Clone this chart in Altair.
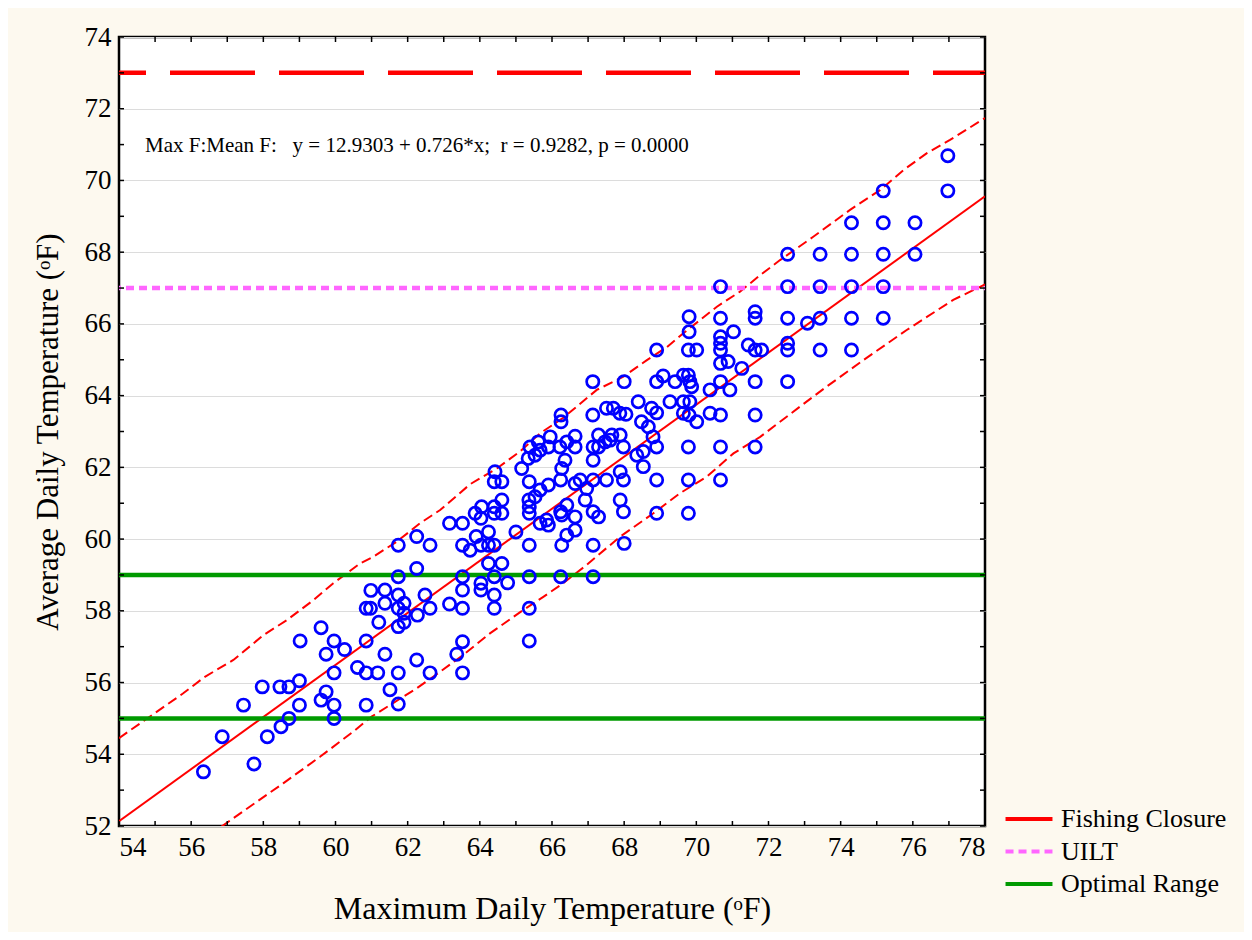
import altair as alt
import pandas as pd

# ---------------- data ----------------
max_f = [
    56.34, 57.74, 56.86, 58.11, 58.49, 58.71, 57.45, 57.97, 58.46, 58.71, 59.0, 59.0, 59.6, 59.74, 59.96, 59.96,
    60.85, 59.96, 60.61, 60.85, 61.17, 59.02, 59.6, 59.74, 59.96, 60.25, 60.85, 60.85, 60.97, 60.98, 61.2,
    61.74, 61.37, 62.25, 62.62, 63.36, 63.52, 63.52, 61.51, 61.74, 61.37, 61.37, 61.74, 61.74, 61.9, 61.9,
    61.74, 61.9, 62.27, 62.62, 62.48, 63.16, 63.52, 64.4, 64.4, 65.37, 65.37, 61.74, 62.25, 63.52, 63.52,
    64.03, 64.03, 64.4, 64.77, 65.37, 64.24, 64.61, 61.74, 62.25, 62.62, 63.16, 63.52, 63.52, 63.73, 63.9,
    64.03, 64.24, 64.24, 64.4, 63.87, 64.05, 64.03, 64.4, 64.4, 64.61, 64.61, 65.0, 65.37, 65.37, 65.37,
    64.4, 64.61, 65.37,
    66.25, 66.25, 67.13, 67.51, 67.7, 67.88, 68.05, 65.39, 65.62, 65.9, 65.34, 65.53, 65.16, 66.22, 66.41,
    66.64, 66.36, 66.27, 66.64, 67.14, 67.29, 67.47, 67.66, 67.89, 67.98, 67.14, 64.42, 65.67, 65.9, 66.24,
    66.64, 66.78, 66.96, 67.14, 67.51, 67.89, 67.98, 65.36, 65.53, 65.85, 65.67, 65.9, 66.24, 66.41, 66.27,
    66.64, 66.64, 66.41, 66.27, 67.14, 67.29, 67.14, 67.89, 67.98, 66.24, 67.14,
    68.9, 69.78, 70.01, 67.13, 68.0, 68.9, 69.08, 69.41, 69.64, 69.78, 69.82, 69.87, 68.39, 68.76, 68.9,
    69.27, 69.64, 69.82, 69.64, 70.01, 70.38, 68.48, 68.67, 68.8, 68.9, 68.53, 68.35, 68.53, 69.78, 67.29,
    67.61, 65.95, 65.67, 68.9, 69.78, 66.92, 68.9, 69.78, 68.0,
    69.8, 70.67, 71.63, 71.63, 72.53, 73.08, 73.43, 74.3, 69.8, 70.67, 70.67, 70.67, 71.03, 71.44, 71.63,
    71.81, 72.53, 72.53, 73.43, 74.3, 70.67, 70.88, 71.26, 70.67, 70.93, 70.38, 71.63, 72.53, 69.8, 70.67,
    71.63, 70.67, 71.63, 70.67,
    76.97, 76.97, 75.18, 74.3, 75.18, 76.06, 72.53, 73.43, 74.3, 75.18, 76.06, 72.53, 73.43, 74.3, 75.18,
    75.18, 70.67,
]
mean_f = [
    53.51, 53.73, 54.49, 54.49, 54.77, 55.0, 55.37, 55.88, 55.88, 55.88, 56.05, 55.37, 55.51, 55.74, 55.37, 55.0,
    55.37, 56.27, 56.42, 56.27, 56.27, 57.16, 57.53, 56.79, 57.16, 56.92, 57.16, 58.07, 58.07, 58.57, 57.68,
    56.27, 56.79, 56.63, 56.27, 56.79, 57.14, 56.27, 55.8, 55.4, 58.21, 58.58, 58.44, 58.07, 58.21, 57.68,
    57.56, 57.93, 57.88, 58.07, 58.44, 58.19, 58.07, 58.07, 58.44, 58.07, 57.16, 58.95, 59.18, 58.95, 58.58,
    58.77, 58.58, 58.95, 58.78, 58.95, 59.32, 59.32, 59.83, 60.07, 59.83, 60.44, 60.44, 59.83, 59.69, 60.07,
    59.83, 60.2, 59.83, 59.83, 60.72, 60.9, 60.58, 60.9, 60.72, 61.09, 60.72, 60.2, 59.83, 60.72, 60.9,
    61.6, 61.6, 61.6,
    63.46, 63.27, 63.46, 63.65, 63.65, 63.51, 63.48, 62.57, 62.71, 62.57, 62.25, 62.34, 61.97, 62.57, 62.71,
    62.87, 62.2, 61.97, 62.57, 62.57, 62.9, 62.71, 62.9, 62.9, 62.57, 62.2, 61.88, 61.37, 61.51, 61.65,
    61.55, 61.65, 61.41, 61.65, 61.65, 61.88, 61.65, 61.09, 61.18, 60.53, 60.44, 60.39, 60.76, 60.95, 60.67,
    60.62, 60.25, 60.11, 59.83, 60.76, 60.62, 59.83, 61.09, 60.76, 58.95, 58.95,
    65.27, 65.27, 65.27, 64.39, 64.39, 64.39, 64.55, 64.39, 64.57, 64.57, 64.39, 64.25, 63.83, 63.65, 63.52,
    63.83, 63.83, 63.83, 63.51, 63.27, 63.51, 63.27, 63.13, 62.85, 62.57, 62.44, 62.34, 62.02, 62.57, 62.57,
    62.76, 62.85, 62.48, 61.65, 61.65, 61.09, 60.72, 60.72, 59.88,
    66.2, 66.16, 66.34, 66.16, 66.16, 66.02, 66.16, 66.16, 65.78, 65.64, 65.46, 65.27, 65.78, 65.41, 65.27,
    65.27, 65.46, 65.27, 65.27, 65.27, 64.9, 64.95, 64.76, 64.39, 64.16, 64.16, 64.39, 64.39, 63.46, 63.46,
    63.46, 62.57, 62.57, 61.65,
    70.69, 69.71, 69.71, 68.82, 68.82, 68.82, 67.94, 67.94, 67.94, 67.94, 67.94, 67.04, 67.04, 67.04, 67.04,
    66.16, 67.04,
]

# prediction band (dashed red), read along its path
upper_x = [54.0, 55.78, 56.38, 57.17, 58.0, 58.65, 59.39, 59.94, 60.68, 61.05, 61.7, 62.34, 62.9, 63.73,
           64.47, 65.11, 65.67, 66.31, 67.24, 67.98, 68.63, 69.18, 69.64, 70.57, 71.21, 71.77, 72.32,
           73.24, 74.26, 75.09, 75.74, 76.39, 77.03, 78.0]
upper_y = [54.45, 55.7, 56.16, 56.63, 57.32, 57.74, 58.3, 58.77, 59.32, 59.51, 59.93, 60.44, 60.81, 61.53,
           61.97, 62.44, 62.95, 63.38, 64.16, 64.53, 64.99, 65.35, 65.74, 66.48, 66.9, 67.36, 67.78,
           68.43, 69.18, 69.73, 70.29, 70.76, 71.13, 71.74]
lower_x = [56.5, 56.86, 58.55, 59.57, 60.49, 61.0, 62.25, 62.9, 63.54, 64.28, 65.2, 65.76, 66.31, 66.96,
           67.89, 68.81, 69.55, 70.29, 71.03, 71.77, 72.92, 73.61, 74.63, 75.83, 77.12, 78.0]
lower_y = [51.75, 52.0, 53.19, 53.93, 54.63, 55.05, 55.84, 56.3, 56.77, 57.37, 58.02, 58.39, 58.77, 59.28,
           60.07, 60.72, 61.28, 61.74, 62.39, 62.85, 63.73, 64.25, 64.99, 65.83, 66.67, 67.1]

# fitted regression (from the equation printed on the chart)
intercept = 12.9303
slope = 0.726
fit_x = [54.0, 78.0]

ref_names = ["Fishing Closure", "UILT", "Optimal Range", "Optimal Range"]
ref_values = [73, 67, 59, 55]
legend_order = ["Fishing Closure", "UILT", "Optimal Range"]
legend_colors = ["#ff0000", "#ff66ff", "#009a00"]
legend_dashes = [[85, 24], [8, 5], [1, 0]]

x_labels = list(range(54, 79, 2))
y_labels = list(range(52, 75, 2))
x_minor = list(range(54, 79))
y_minor = list(range(52, 75))

annotation = "Max F:Mean F:\u00a0\u00a0 y = 12.9303 + 0.726*x;\u00a0 r = 0.9282, p = 0.0000"
ann_x, ann_y = 54.72, 70.96

x_title = "Maximum Daily Temperature (\u1d52F)"
y_title = "Average Daily Temperature (\u1d52F)"

# ---------------- chart ----------------
FONT = "Liberation Serif"
W, H = 866, 789

xs = alt.Scale(domain=[54, 78], nice=False, zero=False)
ys = alt.Scale(domain=[52, 74], nice=False, zero=False)
x_axis = alt.Axis(values=x_labels, format="d", title=x_title, grid=False, ticks=False, tickSize=0,
                  domain=False, labelFont=FONT, labelFontSize=27, labelColor="black", labelPadding=8,
                  titleFont=FONT, titleFontSize=32, titleFontWeight="normal", titleColor="black",
                  titlePadding=33)
y_axis = alt.Axis(values=y_labels, format="d", title=y_title, grid=True, gridColor="#dcdcdc",
                  gridWidth=1, ticks=False, tickSize=0, domain=False, labelFont=FONT, labelFontSize=27,
                  labelColor="black", labelPadding=8, titleFont=FONT, titleFontSize=31,
                  titleFontWeight="normal", titleColor="black", titlePadding=20)


def X(f):
    return alt.X(f, type="quantitative", scale=xs, axis=x_axis)


def Y(f):
    return alt.Y(f, type="quantitative", scale=ys, axis=y_axis)


pts = pd.DataFrame({"x": max_f, "y": mean_f})
bands = pd.concat([
    pd.DataFrame({"x": upper_x, "y": upper_y, "b": "upper"}),
    pd.DataFrame({"x": lower_x, "y": lower_y, "b": "lower"}),
])
fit = pd.DataFrame({"x": fit_x, "y": [intercept + slope * v for v in fit_x]})
refs = pd.DataFrame({"y": ref_values, "s": ref_names})
ann = pd.DataFrame({"x": [ann_x], "y": [ann_y], "t": [annotation]})
xt = pd.DataFrame({"v": x_minor})
yt = pd.DataFrame({"v": y_minor})

# legend line drawn as a wide custom path so that the row height stays compact
leg = alt.Legend(title=None, orient="none", legendX=892, legendY=764,
                 symbolType="M-1.5,0H1.5", symbolSize=980, symbolStrokeWidth=4,
                 labelFont=FONT, labelFontSize=26, labelColor="black", labelOffset=14,
                 labelLimit=400, rowPadding=1.5, direction="vertical")

grid_base = alt.Chart(pts).mark_point(opacity=0).encode(x=X("x"), y=Y("y"))

band_layer = alt.Chart(bands).mark_line(color="#ff0000", strokeWidth=2, strokeDash=[10, 5],
                                        clip=True).encode(x=X("x"), y=Y("y"), detail="b:N")
fit_layer = alt.Chart(fit).mark_line(color="#ff0000", strokeWidth=2, clip=True).encode(
    x=X("x"), y=Y("y"))

ref_layer = alt.Chart(refs).mark_rule(strokeWidth=4.5, strokeDashOffset=33).encode(
    y=Y("y"),
    color=alt.Color("s:N", scale=alt.Scale(domain=legend_order, range=legend_colors), legend=leg),
    strokeDash=alt.StrokeDash("s:N", scale=alt.Scale(domain=legend_order, range=legend_dashes),
                              legend=leg),
)

point_layer = alt.Chart(pts).mark_point(shape="circle", filled=False, color="#0000ff", size=150,
                                        strokeWidth=2.7, opacity=1).encode(x=X("x"), y=Y("y"))

text_layer = alt.Chart(ann).mark_text(align="left", baseline="middle", font=FONT, fontSize=21,
                                      color="black").encode(x=X("x"), y=Y("y"), text="t:N")

tick_b = alt.Chart(xt).mark_rule(color="black", strokeWidth=1.5).encode(
    x=X("v"), y=alt.value(H), y2=alt.value(H - 5))
tick_t = alt.Chart(xt).mark_rule(color="black", strokeWidth=1.5).encode(
    x=X("v"), y=alt.value(0), y2=alt.value(5))
tick_l = alt.Chart(yt).mark_rule(color="black", strokeWidth=1.5).encode(
    y=Y("v"), x=alt.value(0), x2=alt.value(5))
tick_r = alt.Chart(yt).mark_rule(color="black", strokeWidth=1.5).encode(
    y=Y("v"), x=alt.value(W), x2=alt.value(W - 5))

chart = alt.layer(
    grid_base, band_layer, fit_layer, ref_layer, point_layer, text_layer,
    tick_b, tick_t, tick_l, tick_r,
).properties(
    width=W, height=H,
    autosize=alt.AutoSizeParams(type="none"),
    padding={"left": 111, "top": 29, "right": 259, "bottom": 106},
).configure(
    background="#fdf9ef",
).configure_view(
    stroke="black", strokeWidth=2.5, fill="white",
)

chart.save("out.html", embed_options={"renderer": "svg", "actions": False})
